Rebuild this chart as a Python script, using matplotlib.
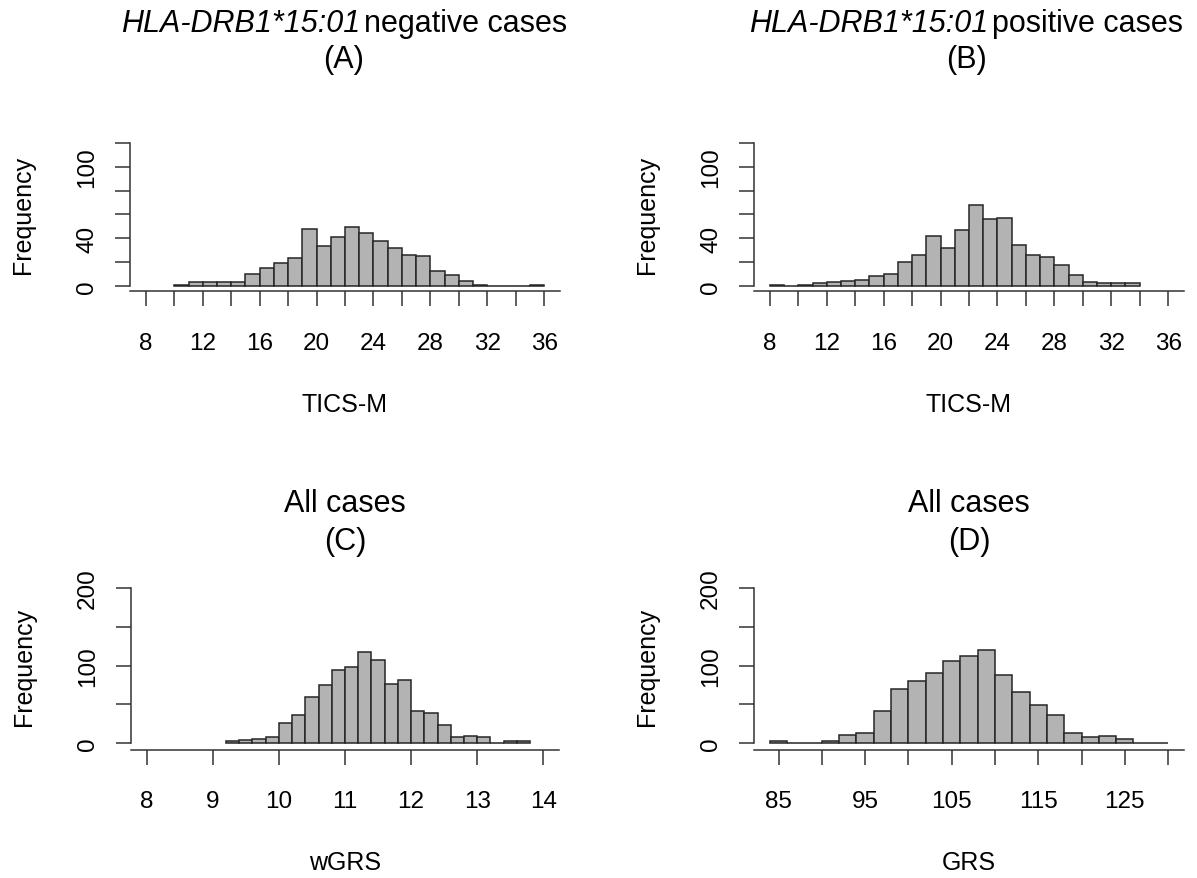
import numpy as np
import matplotlib.pyplot as plt
from matplotlib.transforms import offset_copy

plt.rcParams['font.family'] = ['Liberation Sans', 'DejaVu Sans']

# histogram counts (one value per bin)
tics_neg_start, tics_neg_width = 10, 1
tics_neg_counts = [1, 3, 3, 3, 3, 10, 15, 19, 23, 48, 33, 41, 49, 44, 38, 32,
                   26, 25, 12, 9, 4, 1, 0, 0, 0, 1]

tics_pos_start, tics_pos_width = 8, 1
tics_pos_counts = [1, 0, 1, 2, 3, 4, 5, 8, 10, 20, 26, 42, 32, 47, 68, 56,
                   57, 34, 26, 24, 17, 9, 3, 2, 2, 2]

wgrs_start, wgrs_width = 9.2, 0.2
wgrs_counts = [3, 4, 6, 8, 26, 36, 59, 75, 95, 98, 117, 107, 77, 81, 42, 39,
               23, 8, 10, 8, 1, 3, 3]

grs_start, grs_width = 84, 2
grs_counts = [3, 1, 0, 3, 11, 13, 41, 70, 80, 90, 106, 112, 120, 88, 66, 49,
              36, 13, 8, 9, 6, 1, 1]

tics_ticks = list(range(8, 37, 2))
tics_labels = [str(t) if (t - 8) % 4 == 0 else '' for t in tics_ticks]
wgrs_ticks = list(range(8, 15))
wgrs_labels = [str(t) for t in wgrs_ticks]
grs_ticks = list(range(85, 131, 5))
grs_labels = [str(t) if (t - 85) % 10 == 0 else '' for t in grs_ticks]

freq_ticks_top = [0, 20, 40, 60, 80, 100, 120]
freq_labels_top = [0, 40, 100]
freq_ticks_bot = [0, 50, 100, 150, 200]
freq_labels_bot = [0, 100, 200]

W, H = 1197, 879
fig = plt.figure(figsize=(W / 100, H / 100), dpi=100)

fill = '#b3b3b3'
edge = '#262626'
axcol = '#333333'
tick_fs = 17.5
lab_fs = 18
title_fs = 22


def px_axes(left, top, right, bottom):
    return fig.add_axes([left / W, 1 - bottom / H, (right - left) / W, (bottom - top) / H])


def hist_panel(ax, start, width, counts, xlim, xticks, xlabels, ylim, yticks, ylabs, xlabel):
    edges = start + width * np.arange(len(counts))
    ax.bar(edges, counts, width=width, align='edge', color=fill,
           edgecolor=edge, linewidth=1.1)
    ax.set_xlim(xlim)
    ax.set_ylim(ylim)
    for s in ['top', 'right']:
        ax.spines[s].set_visible(False)
    for s in ['left', 'bottom']:
        ax.spines[s].set_color(axcol)
        ax.spines[s].set_linewidth(1.1)
    ax.spines['left'].set_bounds(yticks[0], yticks[-1])
    ax.set_xticks(xticks, xlabels)
    ax.set_yticks(yticks, [])
    ax.tick_params(axis='both', direction='out', length=11, width=1.1, color=axcol)
    ax.tick_params(axis='x', pad=18.3, labelsize=tick_fs)
    tr = offset_copy(ax.get_yaxis_transform(), fig=fig, x=-37, y=0, units='dots')
    for v in ylabs:
        ax.text(0, v, str(v), transform=tr, rotation=90, rotation_mode='anchor',
                ha='center', va='baseline', fontsize=tick_fs)
    tr2 = offset_copy(ax.transAxes, fig=fig, x=-100, y=0, units='dots')
    ax.text(0, 0.5, 'Frequency', transform=tr2, rotation=90, rotation_mode='anchor',
            ha='center', va='baseline', fontsize=lab_fs)


axA = px_axes(130, 138.3, 560, 292.4)
axB = px_axes(754, 138.3, 1184, 292.4)
axC = px_axes(130.8, 582.8, 559.2, 750.5)
axD = px_axes(754, 582.8, 1184, 750.5)

hist_panel(axA, tics_neg_start, tics_neg_width, tics_neg_counts, (6.88, 37.12),
           tics_ticks, tics_labels, (-4.8, 124.8), freq_ticks_top, freq_labels_top, 'TICS-M')
hist_panel(axB, tics_pos_start, tics_pos_width, tics_pos_counts, (6.88, 37.12),
           tics_ticks, tics_labels, (-4.8, 124.8), freq_ticks_top, freq_labels_top, 'TICS-M')
hist_panel(axC, wgrs_start, wgrs_width, wgrs_counts, (7.76, 14.24),
           wgrs_ticks, wgrs_labels, (-8, 208), freq_ticks_bot, freq_labels_bot, 'wGRS')
hist_panel(axD, grs_start, grs_width, grs_counts, (82.16, 131.84),
           grs_ticks, grs_labels, (-8, 208), freq_ticks_bot, freq_labels_bot, 'GRS')

# axis titles below
fig.text(345 / W, 1 - 412 / H, 'TICS-M', ha='center', va='baseline', fontsize=lab_fs)
fig.text(969 / W, 1 - 412 / H, 'TICS-M', ha='center', va='baseline', fontsize=lab_fs)
fig.text(345 / W, 1 - 870 / H, 'wGRS', ha='center', va='baseline', fontsize=lab_fs)
fig.text(969 / W, 1 - 870 / H, 'GRS', ha='center', va='baseline', fontsize=lab_fs)

# main titles
fig.text(345 / W, 1 - 512 / H, 'All cases', ha='center', va='baseline', fontsize=title_fs)
fig.text(345 / W, 1 - 550 / H, '(C)', ha='center', va='baseline', fontsize=title_fs)
fig.text(969 / W, 1 - 512 / H, 'All cases', ha='center', va='baseline', fontsize=title_fs)
fig.text(969 / W, 1 - 550 / H, '(D)', ha='center', va='baseline', fontsize=title_fs)

renderer = fig.canvas.get_renderer()
for cx, word, tag in [(344, 'negative cases', '(A)'), (966, 'positive cases', '(B)')]:
    t1 = fig.text(0, 1 - 32 / H, 'HLA-DRB1*15:01', style='italic', ha='left',
                  va='baseline', fontsize=title_fs)
    t2 = fig.text(0, 1 - 32 / H, word, ha='left', va='baseline', fontsize=title_fs)
    w1 = t1.get_window_extent(renderer).width
    w2 = t2.get_window_extent(renderer).width
    gap = 4
    x0 = cx - (w1 + gap + w2) / 2
    t1.set_x(x0 / W)
    t2.set_x((x0 + w1 + gap) / W)
    fig.text(cx / W, 1 - 68 / H, tag, ha='center', va='baseline', fontsize=title_fs)

fig.savefig('out.png', dpi=100)
